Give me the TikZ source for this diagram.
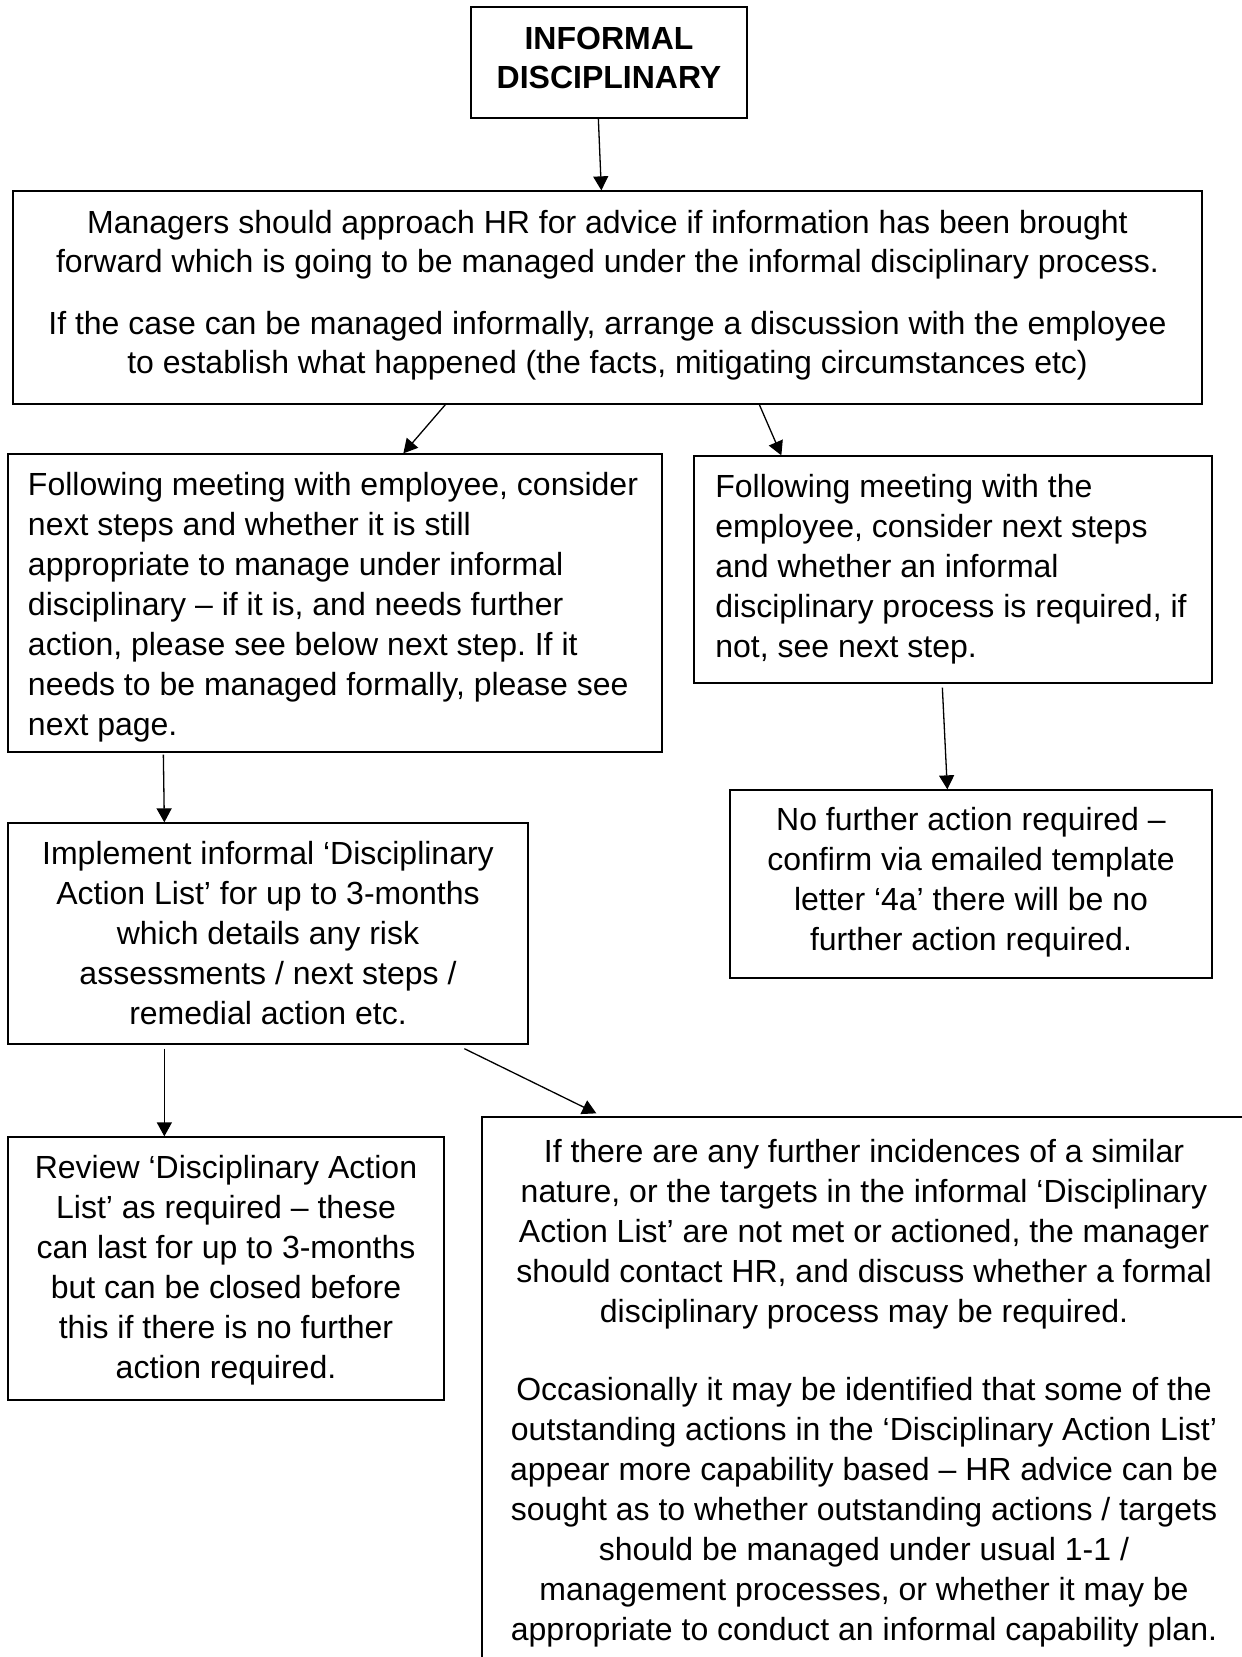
\documentclass[tikz,border=0pt]{standalone}
\usepackage{fontspec}
\setmainfont{Liberation Sans}
\usetikzlibrary{arrows.meta,calc}
\frenchspacing
\begin{document}
\begin{tikzpicture}[x=1pt,y=-1pt,
  box/.style={draw, line width=1.3pt, inner sep=0pt},
  txt/.style={inner sep=0pt, font=\fontsize{32}{40}\selectfont, align=center},
  arr/.style={-{Triangle[length=14pt,width=15pt]}, line width=1.3pt}]
\useasboundingbox (0,0) rectangle (1242,1657);
\clip (0,0) rectangle (1242,1657);

% boxes
\node[box, minimum width=276pt, minimum height=111pt] (title) at (609,62.5) {};
\node[box, minimum width=1189pt, minimum height=213pt] (main) at (607.5,297.5) {};
\node[box, minimum width=654pt, minimum height=298pt] (left) at (335,603) {};
\node[box, minimum width=518pt, minimum height=227pt] (right) at (953,569.5) {};
\node[box, minimum width=520pt, minimum height=221pt] (impl) at (268,933.5) {};
\node[box, minimum width=482pt, minimum height=188pt] (nfa) at (971,884) {};
\node[box, minimum width=436pt, minimum height=263pt] (review) at (226,1268.5) {};
\node[box, minimum width=764pt, minimum height=546pt] (br) at (864,1390) {};

% texts
\node[txt, font=\bfseries\fontsize{32}{39}\selectfont] (titleT) at ([yshift=5pt]title.center) {INFORMAL\\DISCIPLINARY};

\node[txt, font=\fontsize{32}{39.5}\selectfont] (mainT) at ([yshift=2.5pt]main.center) {Managers should approach HR for advice if information has been brought\\forward which is going to be managed under the informal disciplinary process.\\[22pt]If the case can be managed informally, arrange a discussion with the employee\\to establish what happened (the facts, mitigating circumstances etc)};

\node[txt, align=left] (leftT) at ([xshift=-2pt,yshift=-4pt]left.center) {Following meeting with employee, consider\\next steps and whether it is still\\appropriate to manage under informal\\disciplinary – if it is, and needs further\\action, please see below next step. If it\\needs to be managed formally, please see\\next page.};

\node[txt, align=left] (rightT) at ([xshift=-2pt]right.center) {Following meeting with the\\employee, consider next steps\\and whether an informal\\disciplinary process is required, if\\not, see next step.};

\node[txt] (implT) at (impl.center) {Implement informal ‘Disciplinary\\Action List’ for up to 3-months\\which details any risk\\assessments / next steps /\\remedial action etc.};

\node[txt] (nfaT) at ([yshift=2pt]nfa.center) {No further action required –\\confirm via emailed template\\letter ‘4a’ there will be no\\further action required.};

\node[txt] (reviewT) at ([yshift=-2pt]review.center) {Review ‘Disciplinary Action\\List’ as required – these\\can last for up to 3-months\\but can be closed before\\this if there is no further\\action required.};

\node[txt, anchor=north] (brT) at ([yshift=-23pt]br.north) {If there are any further incidences of a similar\\nature, or the targets in the informal ‘Disciplinary\\Action List’ are not met or actioned, the manager\\should contact HR, and discuss whether a formal\\disciplinary process may be required.\\[38pt]Occasionally it may be identified that some of the\\outstanding actions in the ‘Disciplinary Action List’\\appear more capability based – HR advice can be\\sought as to whether outstanding actions / targets\\should be managed under usual 1-1 /\\management processes, or whether it may be\\appropriate to conduct an informal capability plan.};

% connectors
\draw[arr] ([xshift=128pt]title.south west) -- ([xshift=589pt]main.north west);
\draw[arr] ([xshift=433pt]main.south west) -- ([xshift=396pt]left.north west);
\draw[arr] ([xshift=747pt]main.south west) -- ([xshift=88pt]right.north west);
\draw[arr] ([xshift=249pt,yshift=-4pt]right.south west) -- ([xshift=218pt]nfa.north west);
\draw[arr] ([xshift=156pt,yshift=-2pt]left.south west) -- ([xshift=157pt]impl.north west);
\draw[arr] ([xshift=157pt,yshift=-4pt]impl.south west) -- ([xshift=157pt]review.north west);
\draw[arr] ([xshift=457pt,yshift=-4pt]impl.south west) -- ([xshift=115pt,yshift=3pt]br.north west);
\end{tikzpicture}
\end{document}
